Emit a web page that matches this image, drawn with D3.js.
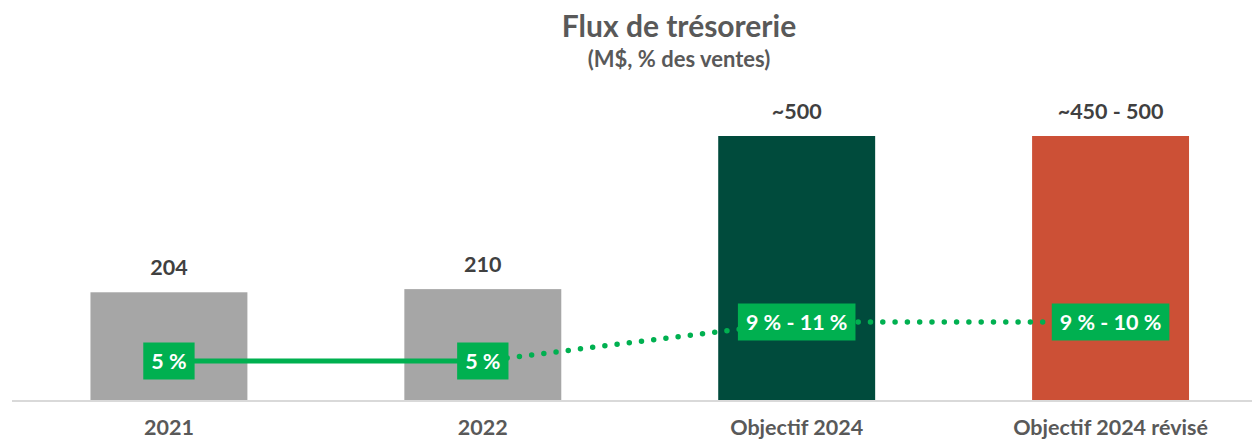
<!DOCTYPE html>
<html><head><meta charset="utf-8">
<script src="https://cdn.jsdelivr.net/npm/d3@7"></script>
<style>body{margin:0;background:#fff}svg{display:block;font-family:Lato,"Open Sans",sans-serif}</style>
</head><body>
<svg id="c" width="1252" height="440"></svg>
<script>
const categories = ["2021", "2022", "Objectif 2024", "Objectif 2024 révisé"];
const barValues = [204, 210, 500, 500];
const barLabels = ["204", "210", "~500", "~450 - 500"];
const barColors = ["#A6A6A6", "#A6A6A6", "#004B3C", "#CC5036"];
const pctValues = [5, 5, 10, 10];
const pctLabels = ["5 %", "5 %", "9 % - 11 %", "9 % - 10 %"];
const lineStyles = ["solid", "dotted", "dotted"];
const title = "Flux de trésorerie";
const subtitle = "(M$, % des ventes)";

const svg = d3.select("#c");
const x = d3.scaleBand().domain(categories).range([12, 1267.5]).paddingInner(0.5).paddingOuter(0.25);
const y = d3.scaleLinear().domain([0, 500]).range([400, 136]);
const y2 = d3.scaleLinear().domain([0, 10]).range([400, 322]);
const cx = c => x(c) + x.bandwidth() / 2;

svg.append("text").attr("x", 679).attr("y", 37).attr("text-anchor", "middle")
  .attr("font-size", 30).attr("font-weight", 700).attr("fill", "#595959").text(title);
svg.append("text").attr("x", 679).attr("y", 67).attr("text-anchor", "middle")
  .attr("font-size", 22).attr("font-weight", 700).attr("fill", "#595959").text(subtitle);

svg.selectAll("rect.bar").data(categories).join("rect").attr("class", "bar")
  .attr("x", d => x(d)).attr("width", x.bandwidth())
  .attr("y", (d, i) => y(barValues[i])).attr("height", (d, i) => y(0) - y(barValues[i]))
  .attr("fill", (d, i) => barColors[i]);

svg.append("line").attr("x1", 12).attr("x2", 1252).attr("y1", y(0) + 1).attr("y2", y(0) + 1)
  .attr("stroke", "#D9D9D9").attr("stroke-width", 2);

svg.selectAll("text.val").data(categories).join("text").attr("class", "val")
  .attr("x", d => cx(d)).attr("y", (d, i) => y(barValues[i]) - 17)
  .attr("text-anchor", "middle").attr("font-size", 21.5).attr("font-weight", 700).attr("fill", "#404040")
  .text((d, i) => barLabels[i]);

svg.selectAll("text.cat").data(categories).join("text").attr("class", "cat")
  .attr("x", d => cx(d)).attr("y", 435)
  .attr("text-anchor", "middle").attr("font-size", 21.5).attr("font-weight", 700).attr("fill", "#595959")
  .text(d => d);

for (let i = 0; i < categories.length - 1; i++) {
  const ln = svg.append("line")
    .attr("x1", cx(categories[i])).attr("y1", y2(pctValues[i]))
    .attr("x2", cx(categories[i + 1])).attr("y2", y2(pctValues[i + 1]))
    .attr("stroke", "#00B050").attr("stroke-width", lineStyles[i] === "solid" ? 5 : 5.5);
  if (lineStyles[i] === "dotted") ln.attr("stroke-dasharray", "0 12.3").attr("stroke-linecap", "round");
}

const g = svg.selectAll("g.pl").data(categories).join("g").attr("class", "pl")
  .attr("transform", (d, i) => `translate(${cx(d)},${y2(pctValues[i])})`);
const rects = g.append("rect").attr("fill", "#00B050");
const texts = g.append("text").attr("text-anchor", "middle").attr("dy", "0.35em")
  .attr("font-size", 21.5).attr("font-weight", 700).attr("fill", "#fff").text((d, i) => pctLabels[i]);
texts.each(function () {
  const w = this.getComputedTextLength() + 16;
  d3.select(this.previousSibling).attr("x", -w / 2).attr("width", w).attr("y", -18.5).attr("height", 37);
});
</script>
</body></html>
